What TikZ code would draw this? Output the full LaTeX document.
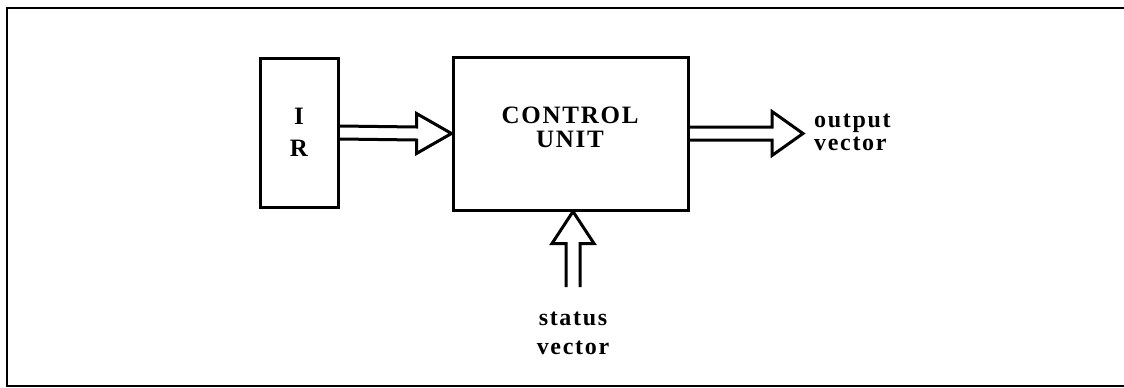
\documentclass[tikz,border=0pt]{standalone}
\usepackage{fontspec}
\setmainfont{Liberation Serif}
\newfontfamily\spacedfont[LetterSpace=7]{Liberation Serif}
\usetikzlibrary{calc}
\begin{document}
\begin{tikzpicture}[x=1pt,y=-1pt,
  blk/.style={draw,line width=3pt,inner sep=0pt},
  bigtxt/.style={align=center,inner sep=0pt},
  lbl/.style={font=\spacedfont\fontsize{24}{23}\selectfont\bfseries,align=left,inner sep=0pt},
  fat/.style={line width=3pt,line join=miter}]
\useasboundingbox (0,0) rectangle (1124,388);
\draw[line width=2.5pt] (1130,8) -- (7,8) -- (7,386) -- (1130,386);
\node[blk,minimum width=78pt,minimum height=149pt] (ir) at (299,132.5) {};
\node[bigtxt,font=\fontsize{25}{32}\selectfont\bfseries] (irt) at (299,132) {I\\R};
\node[blk,minimum width=235pt,minimum height=153pt] (cu) at (570.5,133.5) {};
\node[bigtxt,font=\spacedfont\fontsize{25}{24}\selectfont\bfseries] (cut) at (570,127) {CONTROL\\UNIT};
\coordinate (outtip) at (803,133.5);
\coordinate (stbot) at (573,287);
\node[lbl,anchor=west] (outl) at (814,132) {output\\vector};
\node[lbl,align=center,font=\spacedfont\fontsize{24}{29}\selectfont\bfseries] (stl) at (573,333) {status\\vector};
% IR -> CU
\draw[fat] ($(ir.east)+(0,-6.5)$) -- ($(cu.west)+(-35,-6.5)$) -- ($(cu.west)+(-35,-20)$)
  -- (cu.west) -- ($(cu.west)+(-35,20)$) -- ($(cu.west)+(-35,6.5)$) -- ($(ir.east)+(0,6.5)$);
% CU -> output
\draw[fat] ($(cu.east)+(0,-6.5)$) -- ($(outtip)+(-31,-6.5)$) -- ($(outtip)+(-31,-22)$)
  -- (outtip) -- ($(outtip)+(-31,22)$) -- ($(outtip)+(-31,6.5)$) -- ($(cu.east)+(0,6.5)$);
% status -> CU
\draw[fat] ($(stbot)+(-7,0)$) -- ($(cu.south)+(-4.5,32)$) -- ($(cu.south)+(-18.5,32)$)
  -- ($(cu.south)+(2.5,0)$) -- ($(cu.south)+(23.5,32)$) -- ($(cu.south)+(9.5,32)$) -- ($(stbot)+(7,0)$);
\end{tikzpicture}
\end{document}
